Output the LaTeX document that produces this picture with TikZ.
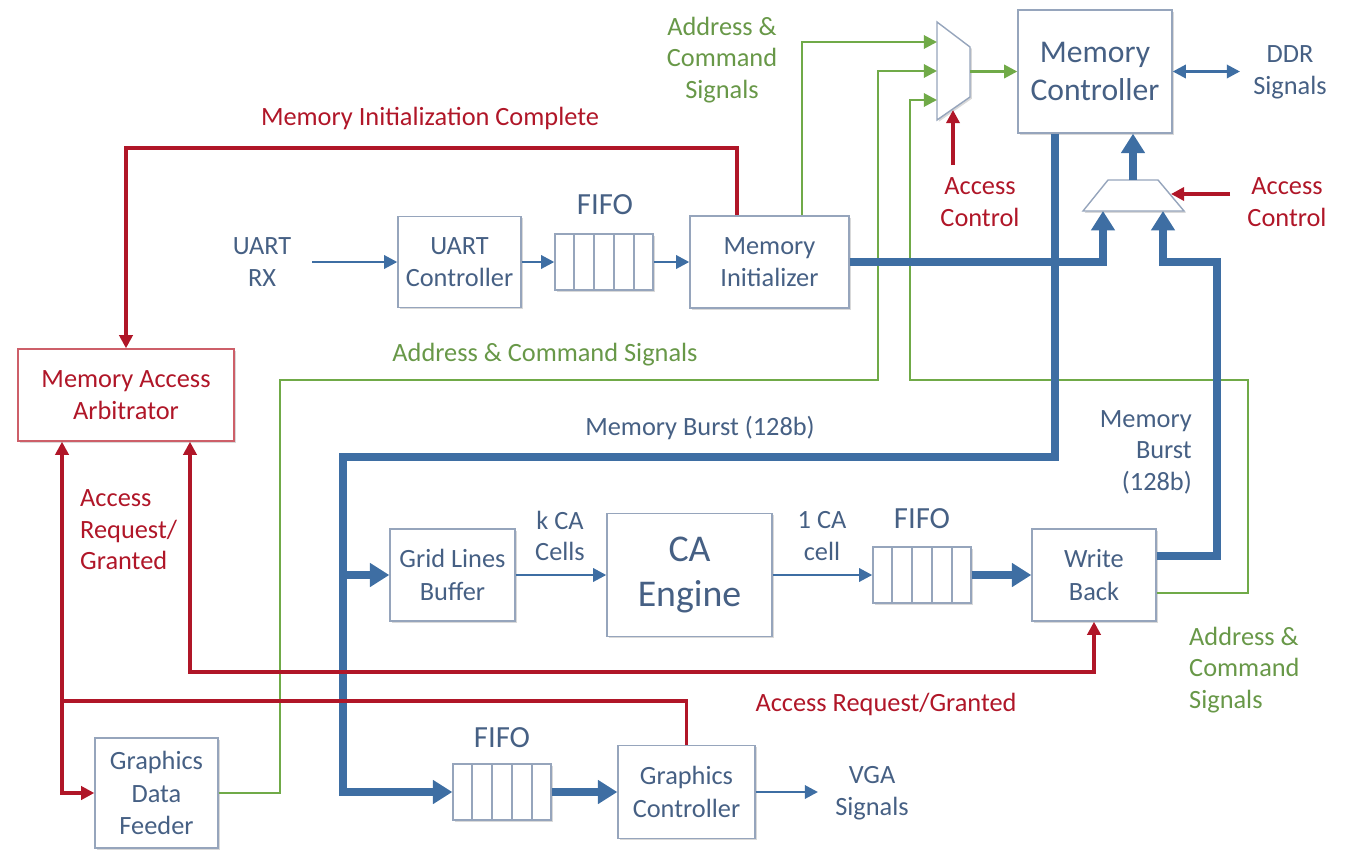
\documentclass[tikz,border=0pt]{standalone}
\usepackage{fontspec}
\setmainfont{Carlito}
\usetikzlibrary{arrows.meta,calc,shadows}

\definecolor{boxtext}{RGB}{70,96,132}
\definecolor{boxedge}{RGB}{150,165,188}
\definecolor{busblue}{RGB}{62,110,163}
\definecolor{ctlred}{RGB}{176,22,40}
\definecolor{arbedge}{RGB}{205,95,105}
\definecolor{cmdgreen}{RGB}{112,170,72}
\definecolor{cmdtext}{RGB}{104,152,72}

\tikzset{
  block/.style={draw=boxedge,line width=0.8pt,fill=white,text=boxtext,align=center,
    font=\fontsize{15}{18.5}\selectfont,inner sep=0pt,
    drop shadow={shadow xshift=1pt,shadow yshift=-1pt,opacity=0.3,fill=gray}},
  fifobox/.style={block,minimum width=1.96cm,minimum height=1.12cm},
  muxedge/.style={draw=boxedge,line width=0.8pt,fill=white,
    drop shadow={shadow xshift=1pt,shadow yshift=-1pt,opacity=0.3,fill=gray}},
  lbl/.style={text=boxtext,align=center,font=\fontsize{15}{18}\selectfont},
  fifolbl/.style={lbl,font=\fontsize{17.5}{21}\selectfont},
  ctllbl/.style={lbl,text=ctlred},
  cmdlbl/.style={lbl,text=cmdtext},
  thinbus/.style={draw=busblue,line width=1.6pt,-{Triangle[length=7.5pt,width=7.5pt]}},
  widebus/.style={draw=busblue,line width=4.6pt,-{Triangle[length=11pt,width=13pt]}},
  ctlline/.style={draw=ctlred,line width=1.9pt},
  ctlarrow/.style={ctlline,-{Triangle[length=7.5pt,width=7.5pt]}},
  ctlboth/.style={ctlline,{Triangle[length=7.5pt,width=7.5pt]}-{Triangle[length=7.5pt,width=7.5pt]}},
  cmdline/.style={draw=cmdgreen,line width=1.6pt},
  cmdarrow/.style={cmdline,-{Triangle[length=7.5pt,width=7.5pt]}}
}

\begin{document}
\begin{tikzpicture}[x=0.02cm,y=-0.02cm]
\useasboundingbox (0,0) rectangle (1346,849);

% blocks
\node[block,minimum width=3.08cm,minimum height=2.46cm,font=\fontsize{18}{22}\selectfont] (memctrl) at (1095,71.5) {Memory\\Controller};
\node[block,minimum width=3.18cm,minimum height=1.84cm] (meminit) at (769.5,262) {Memory\\Initializer};
\node[block,minimum width=2.46cm,minimum height=1.82cm] (uart) at (459.5,262) {UART\\Controller};
\node[fifobox] (fifoa) at (604,262) {};
\node[block,draw=arbedge,text=ctlred,minimum width=4.32cm,minimum height=1.84cm] (arb) at (126,395) {Memory Access\\Arbitrator};
\node[block,minimum width=2.5cm,minimum height=1.84cm] (grid) at (452.5,575) {Grid Lines\\Buffer};
\node[block,minimum width=3.3cm,minimum height=2.46cm,font=\fontsize{21.5}{26}\selectfont] (caeng) at (689.5,575) {CA\\Engine};
\node[fifobox] (fifob) at (922,575) {};
\node[block,minimum width=2.48cm,minimum height=1.84cm] (wb) at (1094,575) {Write\\Back};
\node[block,minimum width=2.46cm,minimum height=2.2cm] (gdf) at (156.5,793) {Graphics\\Data\\Feeder};
\node[fifobox] (fifoc) at (502,792) {};
\node[block,minimum width=2.74cm,minimum height=1.86cm] (gctrl) at (686.5,792) {Graphics\\Controller};

% fifo cells
\foreach \f in {fifoa,fifob,fifoc}
  \foreach \k in {1,...,4}
    \draw[boxedge,line width=0.8pt] ($(\f.north west)!\k/5!(\f.north east)$) -- ($(\f.south west)!\k/5!(\f.south east)$);

\node[fifolbl] (fifoatxt) at (605,205) {FIFO};
\node[fifolbl] (fifobtxt) at (922,519) {FIFO};
\node[fifolbl] (fifoctxt) at (502,738) {FIFO};

% multiplexers
\draw[muxedge] (937,22) -- (970,47) -- (970,97) -- (937,120) -- cycle;
\draw[muxedge] (1108,180) -- (1158,180) -- (1184,211) -- (1083,211) -- cycle;
\coordinate (muxa-in1) at (937,42);
\coordinate (muxa-in2) at (937,71);
\coordinate (muxa-in3) at (937,100);
\coordinate (muxa-out) at (970,71.5);
\coordinate (muxa-sel) at (953,110);
\coordinate (muxb-in1) at (1103,211);
\coordinate (muxb-in2) at (1163,211);
\coordinate (muxb-out) at (1133,180);
\coordinate (muxb-sel) at (1171,194);

% turning points
\coordinate (gdfturn) at (280,380);
\coordinate (cmdrise) at (878,71);
\coordinate (wbcmdturn) at (1248,380);
\coordinate (wbcmdrise) at (910,100);
\coordinate (rdbend) at (343,457);
\coordinate (rdtap) at (343,575);
\coordinate (wbturn) at (1217,262);
\coordinate (initturn) at (126,148);
\coordinate (gcjoin) at (62,701);
\coordinate (wbreqturn) at (1094,672);
\coordinate (selatail) at (953,165);
\coordinate (selbtail) at (1230,194);
\coordinate (rxtail) at (312,262);
\coordinate (vgahead) at (818,792);
\coordinate (ddrhead) at (1240,71.5);

% address & command
\draw[cmdarrow] ([xshift=0.65cm]meminit.north) |- (muxa-in1);
\draw[cmdarrow] (gdf.east) -| (gdfturn) -| (cmdrise) -- (muxa-in2);
\draw[cmdarrow] ([yshift=-0.36cm]wb.east) -| (wbcmdturn) -| (wbcmdrise) -- (muxa-in3);
\draw[cmdarrow] (muxa-out) -- (memctrl.west);

% data paths
\draw[thinbus] (rxtail) -- (uart.west);
\draw[thinbus] (uart.east) -- (fifoa.west);
\draw[thinbus] (fifoa.east) -- (meminit.west);
\draw[thinbus] (grid.east) -- (caeng.west);
\draw[thinbus] (caeng.east) -- (fifob.west);
\draw[thinbus] (gctrl.east) -- (vgahead);
\draw[thinbus,{Triangle[length=7.5pt,width=7.5pt]}-{Triangle[length=7.5pt,width=7.5pt]}] (memctrl.east) -- (ddrhead);
\draw[widebus] (meminit.east) -| (muxb-in1);
\draw[widebus] ([yshift=0.38cm]wb.east) -| (wbturn) -| (muxb-in2);
\draw[widebus] (muxb-out) -- (muxb-out |- memctrl.south);
\draw[widebus] ([xshift=-0.8cm]memctrl.south) |- (rdbend) |- (fifoc.west);
\draw[widebus] (rdtap) -- (grid.west);
\draw[widebus] (fifob.east) -- (wb.west);
\draw[widebus] (fifoc.east) -- (gctrl.west);

% control
\draw[ctlarrow] ([xshift=-0.65cm]meminit.north) |- (initturn) -- (arb.north);
\draw[ctlboth] ([xshift=-1.28cm]arb.south) |- (gdf.west);
\draw[ctlline] (gctrl.north) |- (gcjoin);
\draw[ctlboth] ([xshift=1.28cm]arb.south) |- (wbreqturn) -- (wb.south);
\draw[ctlarrow] (selatail) -- (muxa-sel);
\draw[ctlarrow] (selbtail) -- (muxb-sel);

% labels
\node[lbl] (rxlbl) at (262,262) {UART\\RX};
\node[lbl] (ddrlbl) at (1290,72) {DDR\\Signals};
\node[lbl] (vgalbl) at (872,793) {VGA\\Signals};
\node[lbl] (kcells) at (560,536) {k CA\\Cells};
\node[lbl] (onecell) at (822,536) {1 CA\\cell};
\node[lbl] (burstlbl) at (700,428) {Memory Burst (128b)};
\node[lbl,anchor=east,align=right] (wbburst) at (1198,452) {Memory\\Burst\\(128b)};
\node[ctllbl] (initdone) at (430,118) {Memory Initialization Complete};
\node[ctllbl] (accsela) at (980,202) {Access\\Control};
\node[ctllbl] (accselb) at (1287,202) {Access\\Control};
\node[ctllbl,anchor=west,align=left] (reqleft) at (74,530) {Access\\Request/\\Granted};
\node[ctllbl] (reqwb) at (886,704) {Access Request/Granted};
\node[cmdlbl] (cmdtop) at (722,60) {Address \&\\Command\\Signals};
\node[cmdlbl] (cmdmid) at (545,355) {Address \& Command Signals};
\node[cmdlbl,anchor=west,align=left] (cmdwb) at (1183,670) {Address \&\\Command\\Signals};
\end{tikzpicture}
\end{document}
